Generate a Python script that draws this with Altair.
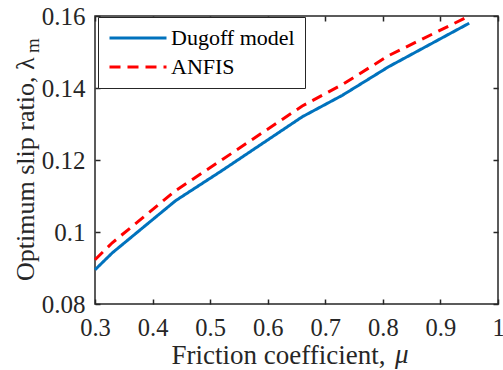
import altair as alt
import pandas as pd

# Friction coefficient samples and optimum slip ratio for each model
mu = [0.30, 0.33, 0.44, 0.52, 0.66, 0.73, 0.81, 0.95]
dugoff = [0.0895, 0.0942, 0.1087, 0.1170, 0.1320, 0.1380, 0.1459, 0.1580]
anfis = [0.0923, 0.0970, 0.1115, 0.1200, 0.1350, 0.1410, 0.1490, 0.1600]

series_names = ["Dugoff model", "ANFIS"]
series_colors = ["#0072BD", "#FF0000"]
x_ticks = [0.3, 0.4, 0.5, 0.6, 0.7, 0.8, 0.9, 1.0]
y_ticks = [0.08, 0.10, 0.12, 0.14, 0.16]

rows = []
for m, d, a in zip(mu, dugoff, anfis):
    rows.append({"mu": m, "val": d, "series": "Dugoff model"})
    rows.append({"mu": m, "val": a, "series": "ANFIS"})
df = pd.DataFrame(rows)

FONT = "Liberation Serif"
INK = "#262626"

x_scale = alt.Scale(domain=[0.3, 1.0], nice=False, zero=False)
y_scale = alt.Scale(domain=[0.08, 0.16], nice=False, zero=False)

tick_style = dict(
    domain=False, grid=False, tickSize=5, tickWidth=1.5, tickColor=INK,
    offset=-5, labelFont=FONT, labelColor=INK, titleFont=FONT,
    titleColor=INK, titleFontWeight="normal",
)

x_bottom = alt.Axis(
    values=x_ticks, format="~g", orient="bottom", labelFontSize=24.5,
    labelPadding=12, title="Friction coefficient,", titleFontSize=27,
    titleX=76, titleY=64, titleAlign="left", titleBaseline="alphabetic",
    labelFlush=False, labelOverlap=False, **tick_style,
)
y_left = alt.Axis(
    values=y_ticks, format="~g", orient="left", labelFontSize=25,
    labelPadding=10, title="Optimum slip ratio, \u03bb", titleFontSize=26,
    titleAngle=270, titleAlign="right", titleBaseline="alphabetic",
    titleX=-67, titleY=41, labelFlush=False, labelOverlap=False,
    **tick_style,
)
x_top = alt.Axis(values=x_ticks, orient="top", labels=False, title=None, **tick_style)
y_right = alt.Axis(values=y_ticks, orient="right", labels=False, title=None, **tick_style)

# Legend key: a short path whose drawn length (57 px) exceeds its nominal
# size (19 px), so the rows stay compact.
legend = alt.Legend(
    title=None, orient="none", legendX=3, legendY=1, direction="vertical",
    strokeColor=INK, fillColor="white", padding=10,
    symbolType="M-1,0H5", symbolSize=361, symbolStrokeWidth=3,
    labelFont=FONT, labelFontSize=22, labelColor="black",
    labelOffset=41, rowPadding=7, cornerRadius=0, labelLimit=300,
)

lines = alt.Chart(df).mark_line(strokeWidth=3).encode(
    x=alt.X("mu:Q", scale=x_scale, axis=x_bottom),
    y=alt.Y("val:Q", scale=y_scale, axis=y_left),
    color=alt.Color(
        "series:N",
        scale=alt.Scale(domain=series_names, range=series_colors),
        legend=legend,
    ),
    strokeDash=alt.StrokeDash(
        "series:N",
        scale=alt.Scale(domain=series_names, range=[[1, 0], [11, 7]]),
        legend=legend,
    ),
)

# Invisible layer that carries the mirrored top/right tick marks
frame_ticks = alt.Chart(df).mark_point(opacity=0).encode(
    x=alt.X("mu:Q", scale=x_scale, axis=x_top),
    y=alt.Y("val:Q", scale=y_scale, axis=y_right),
)

# Subscript "m" of the y-axis symbol
subscript = alt.Chart(pd.DataFrame({"t": ["m"]})).mark_text(
    font=FONT, fontSize=19, color=INK, angle=270, align="left",
    baseline="alphabetic",
).encode(text="t:N", x=alt.value(-56), y=alt.value(37))

# Italic mu closing the x-axis title
mu_symbol = alt.Chart(pd.DataFrame({"t": ["\u03bc"]})).mark_text(
    font=FONT, fontSize=27, fontStyle="italic", color=INK, align="left",
    baseline="alphabetic",
).encode(text="t:N", x=alt.value(300), y=alt.value(347))

chart = (
    alt.layer(lines, frame_ticks, subscript, mu_symbol)
    .resolve_axis(x="independent", y="independent")
    .properties(
        width=403, height=288,
        autosize=alt.AutoSizeParams(type="none"),
        padding={"left": 95, "top": 16, "right": 5, "bottom": 66},
    )
    .configure(font=FONT, background="white")
    .configure_view(stroke=INK, strokeWidth=1.5)
    .configure_axis(labelFont=FONT, titleFont=FONT)
    .configure_legend(labelFont=FONT)
)

chart.save("out.html", embed_options={"renderer": "svg", "actions": False})
